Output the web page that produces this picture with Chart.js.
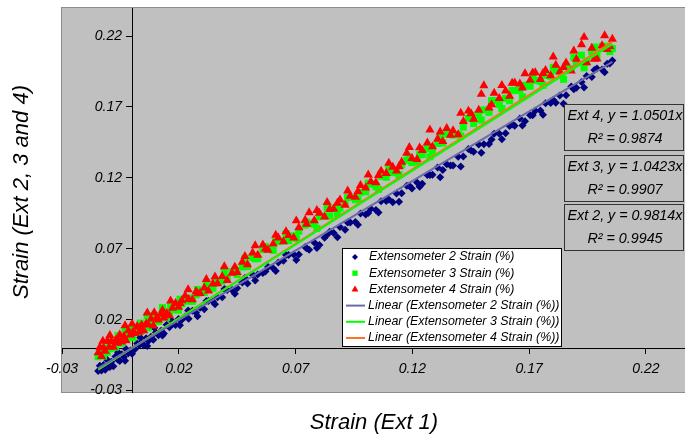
<!DOCTYPE html>
<html>
<head>
<meta charset="utf-8">
<script src="https://cdn.jsdelivr.net/npm/chart.js@4.4.1/dist/chart.umd.min.js"></script>
<style>
  body { margin: 0; background: #fff; overflow: hidden; }
  canvas { display: block; }
</style>
</head>
<body>
<canvas id="chartStrain" width="685" height="436"></canvas>
<script>
// Strain readings (Ext 1 on x, Ext 2/3/4 on y)
const ext1 = [-0.0145,-0.0138,-0.0131,-0.0122,-0.0115,-0.0106,-0.0098,-0.0089,-0.0080,-0.0071,-0.0062,-0.0053,-0.0044,-0.0035,-0.0026,-0.0016,-0.0007,0.0003,0.0012,0.0022,
  0.0031,0.0041,0.0050,0.0060,0.0070,0.0081,0.0091,0.0102,0.0113,0.0124,0.0136,0.0148,0.0160,0.0173,0.0186,0.0199,0.0213,0.0227,0.0242,0.0258,
  0.0274,0.0291,0.0309,0.0327,0.0346,0.0366,0.0386,0.0407,0.0428,0.0450,0.0472,0.0494,0.0516,0.0538,0.0560,0.0582,0.0604,0.0626,0.0648,0.0670,
  0.0692,0.0714,0.0741,0.0758,0.0780,0.0802,0.0824,0.0846,0.0863,0.0890,0.0912,0.0934,0.0956,0.0978,0.1000,0.1022,0.1044,0.1066,0.1088,0.1116,
  0.1132,0.1154,0.1176,0.1198,0.1220,0.1242,0.1264,0.1286,0.1308,0.1330,0.1347,0.1374,0.1396,0.1418,0.1440,0.1462,0.1484,0.1506,0.1528,0.1550,
  0.1572,0.1599,0.1616,0.1638,0.1660,0.1682,0.1704,0.1726,0.1748,0.1770,0.1792,0.1814,0.1831,0.1858,0.1880,0.1902,0.1924,0.1946,0.1968,0.1990,
  0.2012,0.2034,0.2056,
  -0.0125,-0.0095,-0.0060,-0.0030,0.0000,0.0035,0.0065,0.0095,0.0130,0.0165,0.0205,0.0240,0.0280,0.0318,0.0355,0.0395,0.0440,0.0483,0.0527,0.0571,
  0.0615,0.0659,0.0703,0.0747,0.0791,0.0835,0.0879,0.0923,0.0967,0.1011,0.1055,0.1099,0.1143,0.1187,0.1231,0.1275,0.1319,0.1363,0.1407,0.1451,
  0.1495,0.1539,0.1583,0.1627,0.1671,0.1715,0.1759,0.1803,0.1847,0.1891,0.1935,0.1979,0.2023,0.2045];
const ext2 = [-0.0162,-0.0125,-0.0159,-0.0120,-0.0153,-0.0084,-0.0126,-0.0097,-0.0128,-0.0060,-0.0081,-0.0092,-0.0043,-0.0064,-0.0006,-0.0036,-0.0017,0.0143,-0.0008,0.0032,
  0.0020,0.0040,0.0019,0.0069,0.0049,0.0079,0.0059,0.0110,0.0091,0.0122,0.0103,0.0165,0.0147,0.0170,0.0162,0.0205,0.0199,0.0223,0.0207,0.0263,
  0.0249,0.0285,0.0273,0.0331,0.0329,0.0359,0.0359,0.0409,0.0410,0.0421,0.0463,0.0455,0.0516,0.0518,0.0529,0.0571,0.0563,0.0604,0.0616,0.0657,
  0.0659,0.0660,0.0712,0.0694,0.0745,0.0727,0.0778,0.0820,0.0811,0.0853,0.0835,0.0886,0.0888,0.0949,0.0941,0.0983,0.0974,0.1036,0.1037,0.1029,
  0.1090,0.1092,0.1144,0.1125,0.1167,0.1158,0.1220,0.1222,0.1273,0.1255,0.1296,0.1288,0.1349,0.1351,0.1403,0.1384,0.1436,0.1437,0.1439,0.1511,
  0.1512,0.1514,0.1565,0.1567,0.1618,0.1600,0.1642,0.1673,0.1675,0.1726,0.1728,0.1730,0.1781,0.1783,0.1844,0.1836,0.1877,0.1919,0.1911,0.1972,
  0.1964,0.2005,0.2027,
  -0.0133,-0.0133,-0.0029,-0.0089,-0.0040,0.0074,0.0014,0.0143,0.0088,0.0202,0.0161,0.0265,0.0225,0.0332,0.0308,0.0417,0.0382,0.0494,0.0477,0.0540,
  0.0543,0.0656,0.0620,0.0703,0.0706,0.0799,0.0782,0.0885,0.0869,0.0952,0.0955,0.1048,0.1031,0.1144,0.1138,0.1221,0.1204,0.1287,0.1280,0.1393,
  0.1377,0.1470,0.1473,0.1576,0.1569,0.1642,0.1646,0.1749,0.1722,0.1825,0.1838,0.1961,0.1945,0.2006];
const ext3 = [-0.0061,-0.0044,-0.0017,-0.0057,-0.0010,-0.0030,0.0018,-0.0003,0.0027,0.0006,0.0035,0.0065,0.0034,0.0074,0.0063,0.0083,0.0113,0.0073,0.0113,0.0113,
  0.0142,0.0123,0.0152,0.0153,0.0143,0.0184,0.0175,0.0216,0.0188,0.0219,0.0242,0.0214,0.0247,0.0270,0.0294,0.0267,0.0312,0.0347,0.0352,0.0329,
  0.0376,0.0403,0.0392,0.0421,0.0421,0.0461,0.0472,0.0484,0.0536,0.0519,0.0572,0.0575,0.0638,0.0631,0.0694,0.0696,0.0689,0.0752,0.0755,0.0758,
  0.0791,0.0824,0.0867,0.0880,0.0873,0.0926,0.0929,0.0932,0.0984,0.0987,0.1020,0.1063,0.1046,0.1099,0.1102,0.1155,0.1138,0.1211,0.1204,0.1237,
  0.1240,0.1292,0.1325,0.1308,0.1311,0.1364,0.1407,0.1390,0.1443,0.1446,0.1509,0.1502,0.1505,0.1558,0.1620,0.1583,0.1636,0.1679,0.1662,0.1745,
  0.1718,0.1761,0.1744,0.1817,0.1820,0.1853,0.1846,0.1888,0.1881,0.1924,0.1917,0.1960,0.1953,0.1986,0.1969,0.2012,0.2065,0.2018,0.2091,0.2054,
  0.2127,0.2119,0.2112,
  0.0000,0.0041,0.0087,0.0129,0.0130,0.0176,0.0228,0.0229,0.0285,0.0292,0.0344,0.0330,0.0412,0.0461,0.0470,0.0532,0.0548,0.0633,0.0629,0.0715,
  0.0751,0.0807,0.0773,0.0888,0.0844,0.0990,0.0946,0.1062,0.1048,0.1163,0.1119,0.1265,0.1221,0.1347,0.1363,0.1349,0.1494,0.1510,0.1496,0.1642,
  0.1608,0.1744,0.1689,0.1815,0.1771,0.1917,0.1853,0.1979,0.1895,0.2050,0.1976,0.2122,0.2128,0.2091];
const ext4 = [-0.0032,0.0005,-0.0058,0.0002,-0.0021,0.0049,0.0007,0.0047,0.0006,0.0055,0.0035,0.0094,0.0044,0.0083,0.0053,0.0123,0.0093,0.0113,0.0103,0.0153,
  0.0113,0.0163,0.0123,0.0173,0.0164,0.0205,0.0156,0.0207,0.0199,0.0240,0.0213,0.0245,0.0228,0.0282,0.0315,0.0289,0.0334,0.0368,0.0344,0.0341,
  0.0398,0.0386,0.0424,0.0403,0.0453,0.0454,0.0505,0.0477,0.0529,0.0533,0.0606,0.0589,0.0672,0.0655,0.0728,0.0691,0.0734,0.0777,0.0750,0.0794,
  0.0777,0.0850,0.0903,0.0956,0.0899,0.0952,0.0925,0.0978,0.0981,0.1045,0.1008,0.1071,0.1064,0.1147,0.1130,0.1173,0.1166,0.1249,0.1232,0.1276,
  0.1249,0.1312,0.1375,0.1338,0.1331,0.1394,0.1447,0.1420,0.1473,0.1457,0.1550,0.1533,0.1506,0.1599,0.1672,0.1615,0.1678,0.1851,0.1694,0.1798,
  0.1761,0.1814,0.1777,0.1870,0.1863,0.1936,0.1889,0.1942,0.1895,0.1959,0.1922,0.1995,0.1948,0.2011,0.1954,0.2037,0.2140,0.2013,0.2116,0.2040,
  0.2133,0.2106,0.2179,
  0.0049,0.0090,0.0057,0.0158,0.0170,0.0147,0.0248,0.0250,0.0267,0.0333,0.0315,0.0412,0.0384,0.0484,0.0503,0.0575,0.0572,0.0647,0.0723,0.0700,
  0.0796,0.0822,0.0898,0.0874,0.0971,0.1027,0.1023,0.1109,0.1105,0.1222,0.1218,0.1304,0.1280,0.1416,0.1413,0.1539,0.1525,0.1501,0.1657,0.1654,
  0.1790,0.1716,0.1852,0.1868,0.1835,0.1941,0.1937,0.2053,0.1979,0.2096,0.2192,0.2038,0.2204,0.2127];

const serieNames = ["Extensometer 2 Strain (%)", "Extensometer 3 Strain (%)", "Extensometer 4 Strain (%)"];
const serieLabels = ["Ext 2", "Ext 3", "Ext 4"];
const trendSlopes = [0.9814, 1.0423, 1.0501];
const trendR2 = [0.9945, 0.9907, 0.9874];
const trendRange = [-0.0145, 0.2056];
const xTicks = [-0.03, 0.02, 0.07, 0.12, 0.17, 0.22];
const yTicks = [-0.03, 0.02, 0.07, 0.12, 0.17, 0.22];

const pointColors = ["#000080", "#00ff00", "#ff0000"];
const pointStyles = ["rectRot", "rect", "triangle"];
const pointSizes = [4.0, 5.0, 5.3];
const lineColors = ["#6b6ba8", "#00ff00", "#ff7020"];

const FONT = "'Liberation Sans', Arial, sans-serif";

const zip = (xs, ys) => xs.slice(0, ys.length).map((x, i) => ({ x: x, y: ys[i] }));
const serieData = [ext2, ext3, ext4];

const datasets = [];
serieData.forEach((ys, i) => {
    datasets.push({
        label: serieNames[i],
        data: zip(ext1, ys),
        showLine: false,
        pointStyle: pointStyles[i],
        pointRadius: pointSizes[i],
        pointBackgroundColor: pointColors[i],
        pointBorderColor: pointColors[i],
        pointBorderWidth: 0,
        order: 3 - i + 1
    });
});
trendSlopes.forEach((m, i) => {
    datasets.push({
        label: "Linear (" + serieNames[i] + ")",
        data: trendRange.map(x => ({ x: x, y: m * x })),
        showLine: true,
        borderColor: lineColors[i],
        borderWidth: 2,
        pointRadius: 0,
        fill: false,
        order: 0
    });
});

// --- fondo gris del área de trazado ---
const plotBackground = {
    id: "plotBackground",
    beforeDraw(chart) {
        const { ctx, chartArea: a } = chart;
        ctx.save();
        ctx.fillStyle = "#c0c0c0";
        ctx.fillRect(a.left, a.top, a.right - a.left, a.bottom - a.top);
        ctx.strokeStyle = "#8c8c8c";
        ctx.lineWidth = 1;
        ctx.strokeRect(a.left - 0.5, a.top - 0.5, a.right - a.left + 2, a.bottom - a.top + 1);
        ctx.restore();
    }
};

function marker(ctx, style, r, color, x, y) {
    ctx.fillStyle = color;
    ctx.strokeStyle = color;
    ctx.lineWidth = 0;
    if (Chart.helpers && Chart.helpers.drawPoint) {
        Chart.helpers.drawPoint(ctx, { pointStyle: style, radius: r, rotation: 0, borderWidth: 0 }, x, y);
    } else {
        ctx.fillRect(x - 3, y - 3, 6, 6);
    }
}

// --- etiquetas del eje Y, leyenda, cajas de ecuación y títulos ---
const overlays = {
    id: "overlays",
    afterDraw(chart) {
        const { ctx } = chart;
        const xs = chart.scales.x, ys = chart.scales.y;
        ctx.save();

        // etiquetas del eje Y (a la izquierda de la línea x = 0)
        const axisX = xs.getPixelForValue(0);
        ctx.font = "italic 14px " + FONT;
        ctx.fillStyle = "#000";
        ctx.textAlign = "right";
        ctx.textBaseline = "middle";
        yTicks.forEach(v => {
            const py = ys.getPixelForValue(v);
            ctx.fillText(v.toFixed(2), axisX - 10, py);
        });

        // leyenda
        const lx = 342, ly = 248, lw = 219, lh = 98;
        ctx.fillStyle = "#fff";
        ctx.fillRect(lx, ly, lw, lh);
        ctx.strokeStyle = "#000";
        ctx.lineWidth = 1;
        ctx.strokeRect(lx + 0.5, ly + 0.5, lw, lh);
        ctx.font = "italic 12.4px " + FONT;
        ctx.textAlign = "left";
        const rowH = 16.2;
        for (let i = 0; i < 3; i++) {
            const cy = ly + 9 + i * rowH;
            marker(ctx, pointStyles[i], pointSizes[i] * 0.75, pointColors[i], 355, cy);
            ctx.fillStyle = "#000";
            ctx.fillText(serieNames[i], 369, cy);
        }
        for (let i = 0; i < 3; i++) {
            const cy = ly + 9 + (i + 3) * rowH;
            ctx.strokeStyle = lineColors[i];
            ctx.lineWidth = 2;
            ctx.beginPath();
            ctx.moveTo(346, cy);
            ctx.lineTo(365, cy);
            ctx.stroke();
            ctx.fillStyle = "#000";
            ctx.fillText("Linear (" + serieNames[i] + ")", 368, cy);
        }

        // cajas con ecuaciones (Ext 4 arriba)
        const boxTops = [104, 155, 204];
        ctx.font = "italic 14.3px " + FONT;
        ctx.textAlign = "center";
        [2, 1, 0].forEach((s, k) => {
            const top = boxTops[k];
            ctx.fillStyle = "#c0c0c0";
            ctx.fillRect(564, top, 121, 47);
            ctx.strokeStyle = "#333";
            ctx.lineWidth = 1;
            ctx.strokeRect(564.5, top + 0.5, 119, 46);
            ctx.fillStyle = "#000";
            ctx.fillText(serieLabels[s] + ", y = " + trendSlopes[s].toFixed(4) + "x", 625, top + 12);
            ctx.fillText("R\u00b2 = " + trendR2[s].toFixed(4), 625, top + 35);
        });

        // títulos de ejes
        ctx.font = "italic 22px " + FONT;
        ctx.fillStyle = "#000";
        ctx.textAlign = "center";
        ctx.fillText("Strain (Ext 1)", 374, 423);
        ctx.translate(22, 192);
        ctx.rotate(-Math.PI / 2);
        ctx.fillText("Strain (Ext 2, 3 and 4)", 0, 0);
        ctx.restore();
    }
};

const tickFont = { family: FONT, size: 14, style: "italic" };

new Chart(document.getElementById("chartStrain").getContext("2d"), {
    type: "scatter",
    data: { datasets },
    options: {
        responsive: false,
        animation: false,
        layout: { autoPadding: false, padding: { left: 62, top: 8, right: 0, bottom: 44 } },
        plugins: { legend: { display: false }, tooltip: { enabled: false } },
        scales: {
            x: {
                type: "linear",
                position: { y: 0 },
                min: -0.03,
                max: 0.2367,
                afterBuildTicks: s => { s.ticks = xTicks.map(v => ({ value: v })); },
                grid: { drawOnChartArea: false, color: "#000", tickLength: 5 },
                border: { color: "#000", width: 1 },
                ticks: { callback: v => v.toFixed(2), font: tickFont, color: "#000", padding: 8, maxRotation: 0, autoSkip: false }
            },
            y: {
                type: "linear",
                position: { x: 0 },
                min: -0.031,
                max: 0.2398,
                afterBuildTicks: s => { s.ticks = yTicks.map(v => ({ value: v })); },
                grid: { drawOnChartArea: false, color: "#000", tickLength: 6 },
                border: { color: "#000", width: 1 },
                ticks: { display: false }
            }
        }
    },
    plugins: [plotBackground, overlays]
});
</script>
</body>
</html>
